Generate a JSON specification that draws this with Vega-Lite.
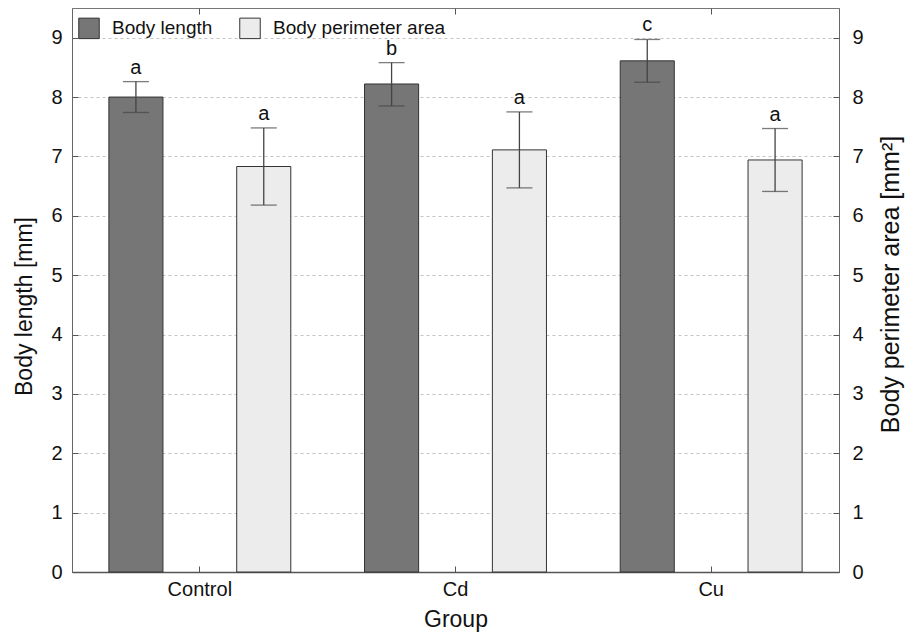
{
  "$schema": "https://vega.github.io/schema/vega-lite/v6.json",
  "width": 767,
  "height": 564,
  "autosize": "none",
  "padding": {"left": 72, "top": 8, "right": 71, "bottom": 61},
  "background": "white",
  "config": {
    "font": "Liberation Sans",
    "view": {"stroke": "#777", "strokeWidth": 1},
    "axis": {
      "labelFontSize": 20, "titleFontSize": 23, "titleFontWeight": "normal",
      "labelColor": "#111", "titleColor": "#111", "domainColor": "#666", "tickColor": "#555"
    }
  },
  "data": {
    "values": [
      {"group": "Control", "measure": "Body length", "value": 8.0, "lo": 7.74, "hi": 8.26, "letter": "a"},
      {"group": "Control", "measure": "Body perimeter area", "value": 6.83, "lo": 6.18, "hi": 7.48, "letter": "a"},
      {"group": "Cd", "measure": "Body length", "value": 8.22, "lo": 7.85, "hi": 8.58, "letter": "b"},
      {"group": "Cd", "measure": "Body perimeter area", "value": 7.11, "lo": 6.47, "hi": 7.75, "letter": "a"},
      {"group": "Cu", "measure": "Body length", "value": 8.61, "lo": 8.25, "hi": 8.97, "letter": "c"},
      {"group": "Cu", "measure": "Body perimeter area", "value": 6.94, "lo": 6.41, "hi": 7.47, "letter": "a"}
    ]
  },
  "encoding": {
    "x": {
      "field": "group", "type": "nominal", "sort": ["Control", "Cd", "Cu"],
      "scale": {"paddingInner": 0, "paddingOuter": 0}
    },
    "xOffset": {
      "field": "measure", "type": "nominal",
      "scale": {"paddingInner": 0.577, "paddingOuter": 0.2885}
    }
  },
  "layer": [
    {
      "mark": {"type": "bar", "stroke": "#333", "strokeWidth": 1},
      "encoding": {
        "x": {
          "field": "group", "type": "nominal", "sort": ["Control", "Cd", "Cu"],
          "axis": {"title": "Group", "labelAngle": 0, "tickSize": -6, "labelPadding": 13, "titlePadding": 9, "domainColor": "#555", "domainWidth": 1.5}
        },
        "y": {
          "field": "value", "type": "quantitative",
          "scale": {"domain": [0, 9.5], "nice": false},
          "axis": {
            "title": "Body length [mm]", "values": [0,1,2,3,4,5,6,7,8,9], "tickSize": -6, "labelPadding": 16,
            "grid": true, "gridDash": [3, 3], "gridColor": "#c4c4c4", "titlePadding": 14, "titleY": 298
          }
        },
        "fill": {
          "field": "measure", "type": "nominal",
          "scale": {"domain": ["Body length", "Body perimeter area"], "range": ["#767676", "#ececec"]},
          "legend": {
            "title": null, "orient": "none", "legendX": 6, "legendY": 9, "direction": "horizontal",
            "symbolType": "square", "symbolSize": 420, "symbolStrokeColor": "#333", "symbolStrokeWidth": 1,
            "labelFontSize": 19, "labelColor": "#111", "columnPadding": 24, "labelOffset": 12, "labelLimit": 400
          }
        }
      }
    },
    {
      "mark": {"type": "rule", "color": "#444", "strokeWidth": 1.3},
      "encoding": {
        "x": {"field": "group", "type": "nominal", "sort": ["Control", "Cd", "Cu"], "axis": {"orient": "top", "labels": false, "title": null, "tickSize": -6, "domain": false}},
        "y": {
          "field": "lo", "type": "quantitative",
          "axis": {"orient": "right", "title": "Body perimeter area [mm²]", "titleAngle": -90, "titleFontSize": 25, "values": [0,1,2,3,4,5,6,7,8,9], "tickSize": -6, "labelPadding": 19, "grid": false, "titlePadding": 40, "titleY": 276}
        },
        "y2": {"field": "hi"}
      }
    },
    {
      "mark": {"type": "tick", "color": "#444", "thickness": 1.3, "size": 26},
      "encoding": {
        "x": {"field": "group", "type": "nominal", "sort": ["Control", "Cd", "Cu"], "axis": null},
        "y": {"field": "hi", "type": "quantitative", "axis": null}
      }
    },
    {
      "mark": {"type": "tick", "color": "#444", "thickness": 1.3, "size": 26},
      "encoding": {
        "x": {"field": "group", "type": "nominal", "sort": ["Control", "Cd", "Cu"], "axis": null},
        "y": {"field": "lo", "type": "quantitative", "axis": null}
      }
    },
    {
      "mark": {"type": "text", "fontSize": 20, "baseline": "alphabetic", "dy": -8, "color": "#111"},
      "encoding": {
        "x": {"field": "group", "type": "nominal", "sort": ["Control", "Cd", "Cu"], "axis": null},
        "y": {"field": "hi", "type": "quantitative", "axis": null},
        "text": {"field": "letter"}
      }
    }
  ],
  "resolve": {"scale": {"y": "shared", "x": "shared"}, "axis": {"y": "independent", "x": "independent"}}
}
